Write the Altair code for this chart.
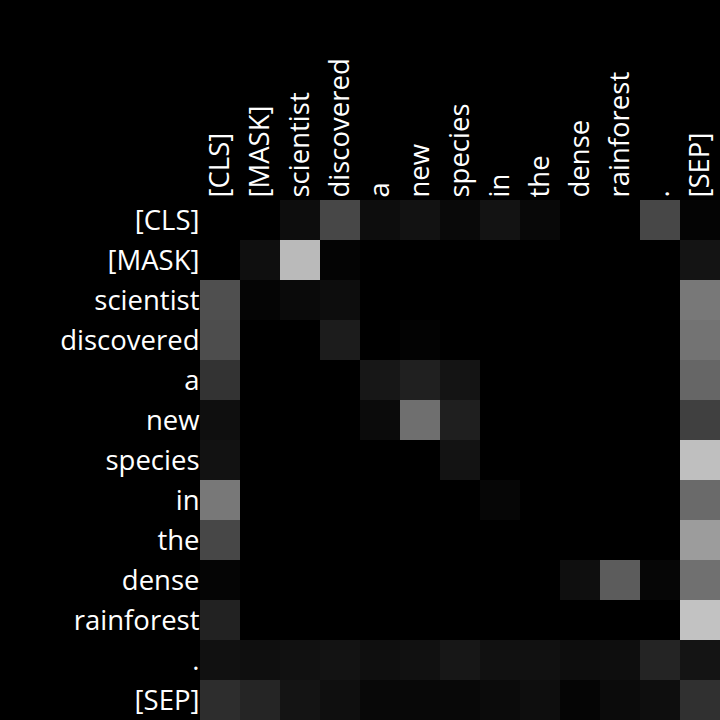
import altair as alt
import pandas as pd

tokens = ["[CLS]", "[MASK]", "scientist", "discovered", "a", "new", "species",
          "in", "the", "dense", "rainforest", ".", "[SEP]"]

# attention weights (row = query token, column = key token), 0..1
attn = [
    [0.00, 0.00, 0.05, 0.28, 0.05, 0.07, 0.035, 0.075, 0.03, 0.00, 0.00, 0.28, 0.015],
    [0.00, 0.06, 0.73, 0.015, 0.00, 0.00, 0.00, 0.00, 0.00, 0.00, 0.00, 0.00, 0.08],
    [0.31, 0.02, 0.04, 0.05, 0.00, 0.00, 0.00, 0.00, 0.00, 0.00, 0.00, 0.00, 0.47],
    [0.30, 0.00, 0.00, 0.11, 0.00, 0.01, 0.00, 0.00, 0.00, 0.00, 0.00, 0.00, 0.45],
    [0.20, 0.00, 0.00, 0.00, 0.09, 0.125, 0.08, 0.00, 0.00, 0.00, 0.00, 0.00, 0.40],
    [0.06, 0.00, 0.00, 0.00, 0.045, 0.435, 0.12, 0.00, 0.00, 0.00, 0.00, 0.00, 0.25],
    [0.07, 0.00, 0.00, 0.00, 0.00, 0.00, 0.075, 0.00, 0.00, 0.00, 0.00, 0.00, 0.75],
    [0.47, 0.00, 0.00, 0.00, 0.00, 0.00, 0.00, 0.025, 0.00, 0.00, 0.00, 0.00, 0.415],
    [0.28, 0.00, 0.00, 0.00, 0.00, 0.00, 0.00, 0.00, 0.00, 0.00, 0.00, 0.00, 0.61],
    [0.02, 0.00, 0.00, 0.00, 0.00, 0.00, 0.00, 0.00, 0.00, 0.06, 0.36, 0.025, 0.44],
    [0.135, 0.00, 0.00, 0.00, 0.00, 0.00, 0.00, 0.00, 0.00, 0.00, 0.00, 0.00, 0.76],
    [0.065, 0.06, 0.065, 0.075, 0.06, 0.065, 0.09, 0.065, 0.065, 0.05, 0.055, 0.14, 0.08],
    [0.175, 0.145, 0.08, 0.06, 0.03, 0.03, 0.03, 0.045, 0.055, 0.02, 0.045, 0.055, 0.19],
]

rows = []
for i, q in enumerate(tokens):
    for j, k in enumerate(tokens):
        rows.append({"query": q, "key": k, "weight": attn[i][j]})
df = pd.DataFrame(rows)

font = "Open Sans"
fs = 27.5

chart = alt.Chart(df).mark_rect().encode(
    x=alt.X("key:N", sort=tokens, title=None,
            axis=alt.Axis(orient="top", labelAngle=-90, labelAlign="left",
                          labelBaseline="middle", ticks=False, domain=False,
                          labelPadding=3, labelOffset=1, labelFontSize=fs,
                          labelColor="white", labelFont=font,
                          labelOverlap=False, labelLimit=300)),
    y=alt.Y("query:N", sort=tokens, title=None,
            axis=alt.Axis(ticks=False, domain=False, labelPadding=1,
                          labelOffset=2, labelFontSize=fs, labelColor="white",
                          labelFont=font, labelOverlap=False, labelLimit=300)),
    color=alt.Color("weight:Q", legend=None,
                    scale=alt.Scale(domain=[0, 1], range=["#000000", "#ffffff"],
                                    interpolate="rgb")),
).properties(
    width=520, height=520,
    background="black",
    padding={"left": 200, "top": 200, "right": 0, "bottom": 0},
    autosize=alt.AutoSizeParams(type="none"),
).configure_view(stroke=None).configure_scale(bandPaddingInner=0, bandPaddingOuter=0)

chart.save("out.html", embed_options={"renderer": "svg", "actions": False})
